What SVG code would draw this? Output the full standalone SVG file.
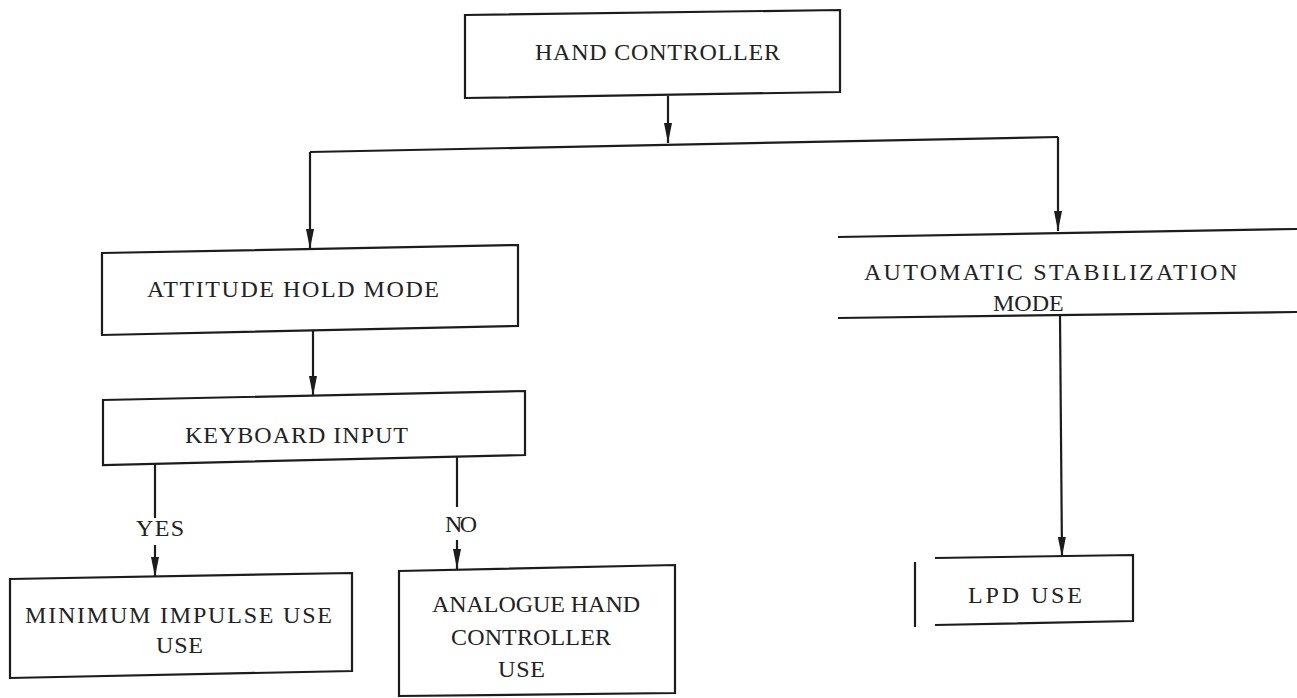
<svg xmlns="http://www.w3.org/2000/svg" width="1297" height="698" viewBox="0 0 1297 698" font-family="'Liberation Serif', 'Times New Roman', serif">
<defs>
<style>
.box{fill:none;stroke:#1c1c1c;stroke-width:2.2;stroke-linejoin:miter}
.ln{fill:none;stroke:#1c1c1c;stroke-width:2.2}
.arr{fill:none;stroke:#1c1c1c;stroke-width:2.2;marker-end:url(#ah)}
.t{font-family:'Liberation Serif','Times New Roman',serif;font-size:24px;fill:#222}
</style>
<marker id="ah" markerUnits="userSpaceOnUse" markerWidth="22" markerHeight="10" refX="20" refY="4" orient="auto">
<path d="M0,0 L20,4 L0,8 Z" fill="#1c1c1c"/>
</marker>
</defs>
<rect width="1297" height="698" fill="#ffffff"/>

<g id="connectors">
<path class="arr" d="M668,96 L668,143"/>
<path class="ln" d="M310,152 L1058,137"/>
<path class="arr" d="M310,152 L310,249"/>
<path class="arr" d="M1058,137 L1058,231"/>
<path class="arr" d="M313,331 L313,396"/>
<path class="ln" d="M155,464 L155,518"/>
<path class="arr" d="M155,545 L155,577"/>
<path class="ln" d="M457,456 L457,507"/>
<path class="arr" d="M457,540 L457,569"/>
<path class="arr" d="M1060,316 L1062,557"/>
<text class="t" x="136" y="536" textLength="48" lengthAdjust="spacing">YES</text>
<text class="t" x="445" y="532" textLength="32" lengthAdjust="spacing">NO</text>
</g>

<g id="hand-controller">
<path class="box" d="M465,15 L840,10 L840,92 L465,98 Z"/>
<text class="t" x="535" y="60" textLength="245" lengthAdjust="spacing">HAND CONTROLLER</text>
</g>

<g id="attitude-hold-mode">
<path class="box" d="M102,253 L518,245 L518,326 L102,335 Z"/>
<text class="t" x="147" y="297" textLength="292" lengthAdjust="spacing">ATTITUDE HOLD MODE</text>
</g>

<g id="automatic-stabilization-mode">
<path class="ln" d="M838,237 L1297,229"/>
<path class="ln" d="M838,318 L1297,312"/>
<text class="t" x="864" y="280" textLength="373" lengthAdjust="spacing">AUTOMATIC STABILIZATION</text>
<text class="t" x="993" y="311">MODE</text>
</g>

<g id="keyboard-input">
<path class="box" d="M103,400 L525,391 L525,455 L103,465 Z"/>
<text class="t" x="185" y="443" textLength="223" lengthAdjust="spacing">KEYBOARD INPUT</text>
</g>

<g id="minimum-impulse-use">
<path class="box" d="M10,579 L352,573 L352,671 L10,678 Z"/>
<text class="t" x="25" y="623" textLength="307" lengthAdjust="spacing">MINIMUM IMPULSE USE</text>
<text class="t" x="156" y="653" textLength="47" lengthAdjust="spacing">USE</text>
</g>

<g id="analogue-hand-controller-use">
<path class="box" d="M399,571 L675,565 L675,693 L399,696 Z"/>
<text class="t" x="432" y="612" textLength="208" lengthAdjust="spacing">ANALOGUE HAND</text>
<text class="t" x="451" y="645" textLength="160" lengthAdjust="spacing">CONTROLLER</text>
<text class="t" x="498" y="677" textLength="47" lengthAdjust="spacing">USE</text>
</g>

<g id="lpd-use">
<path class="ln" d="M915,562 L915,627"/>
<path class="ln" d="M935,558 L1133,555 L1133,621 L935,625"/>
<text class="t" x="968" y="603" textLength="114" lengthAdjust="spacing">LPD USE</text>
</g>
</svg>
